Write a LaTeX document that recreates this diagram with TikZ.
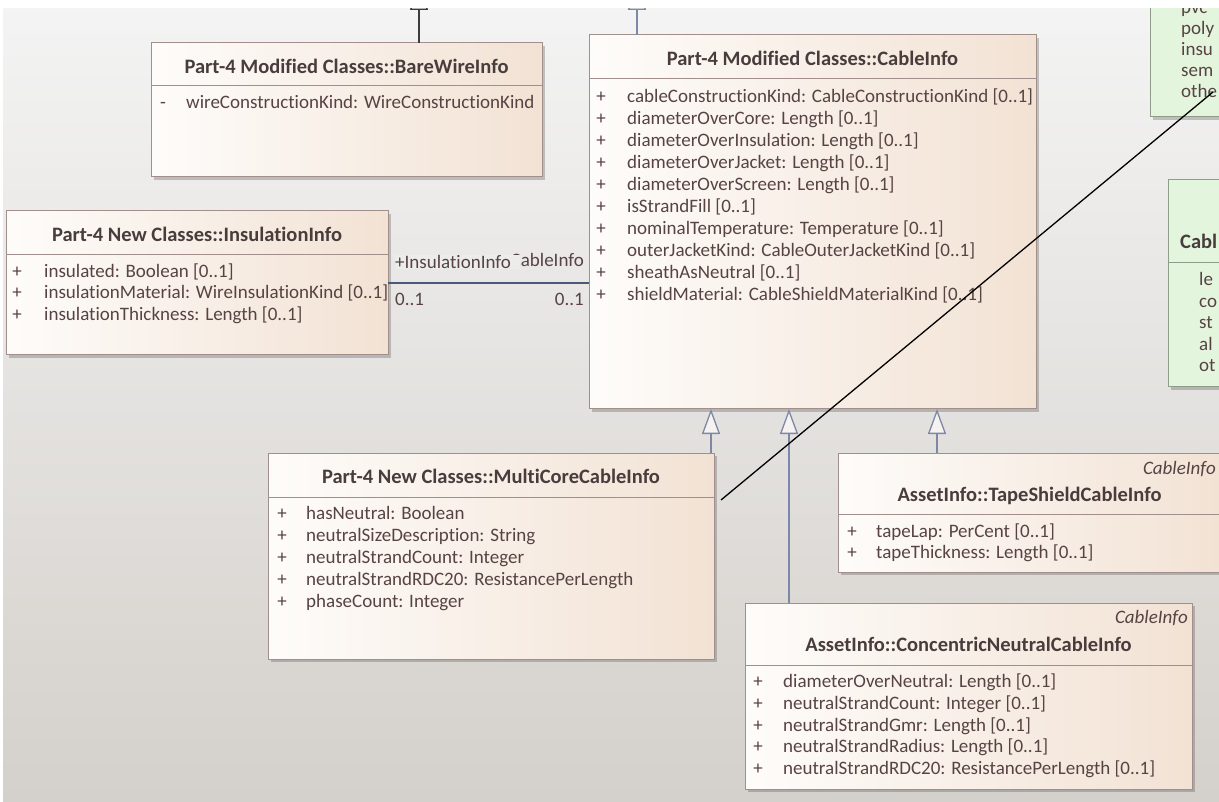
\documentclass[tikz,border=0pt]{standalone}
\usepackage{fontspec}
\setmainfont{Carlito}[Ligatures={NoCommon}]
\usetikzlibrary{shadows,arrows.meta}

\definecolor{bgtop}{HTML}{F4F4F4}
\definecolor{bgmid}{HTML}{E5E4E2}
\definecolor{bgbot}{HTML}{D4D0CB}
\definecolor{bglabel}{HTML}{ECECEB}
\definecolor{clsleft}{HTML}{FEFCFA}
\definecolor{clsright}{HTML}{F2E2D4}
\definecolor{clsline}{HTML}{A28E8A}
\definecolor{attrtext}{HTML}{574343}
\definecolor{titletext}{HTML}{483C3C}
\definecolor{assocline}{HTML}{4C5878}
\definecolor{genline}{HTML}{7C88A6}
\definecolor{genfill}{HTML}{F6F2EF}
\definecolor{darkgen}{HTML}{3C3C3C}
\definecolor{notefill}{HTML}{E4F5DE}
\definecolor{noteline}{HTML}{8E9C8A}

\tikzset{
  boxshadow/.style={drop shadow={shadow xshift=3pt, shadow yshift=-3pt, opacity=0.28, fill=black!75}},
  classbox/.style={draw=clsline, line width=1pt, left color=clsleft, right color=clsright,
    anchor=north west, inner sep=0pt, outer sep=0pt, boxshadow},
  notebox/.style={draw=noteline, line width=1pt, fill=notefill,
    anchor=north west, inner sep=0pt, outer sep=0pt, boxshadow},
  divider/.style={draw=clsline, line width=1pt},
  classtitle/.style={font=\bfseries\fontsize{20.5}{24}\selectfont, text=titletext, inner sep=0pt, anchor=base},
  attr/.style={font=\fontsize{19}{22}\selectfont, text=attrtext, inner sep=0pt, anchor=base west},
  vis/.style={attr, anchor=base},
  stereo/.style={font=\itshape\fontsize{19}{22}\selectfont, text=attrtext, inner sep=0pt, anchor=base east},
  endlabel/.style={attr},
  gen/.style={draw=genline, line width=1.3pt, -{Triangle[length=25pt,width=18pt,fill=genfill]}},
  gendark/.style={draw=darkgen, line width=1.3pt, -{Triangle[length=25pt,width=18pt,fill=genfill]}},
  assoc/.style={draw=assocline, line width=2pt},
  notelink/.style={draw=black, line width=1.3pt},
}

\begin{document}
\begin{tikzpicture}[x=1pt,y=-1pt]
\useasboundingbox (0,0) rectangle (1219,802);
\clip (0,0) rectangle (1219,802);

% canvas
\shade[top color=bgtop, middle color=bgmid, bottom color=bgbot] (0,0) rectangle (1219,802);

% class boxes
\node[classbox, minimum width=391pt, minimum height=134pt] (bare) at (151,43) {};
\node[classbox, minimum width=447pt, minimum height=374pt] (cable) at (589,35) {};
\node[classbox, minimum width=382pt, minimum height=144pt] (insul) at (6,211) {};
\node[classbox, minimum width=446pt, minimum height=206pt] (multi) at (268,453) {};
\node[classbox, minimum width=383pt, minimum height=119pt] (tape) at (838,453) {};
\node[classbox, minimum width=447pt, minimum height=186pt] (concentric) at (745,603) {};

% enumeration notes at the right border
\node[notebox, minimum width=90pt, minimum height=134pt] (wireins) at (1150,-17) {};
\node[notebox, minimum width=80pt, minimum height=207pt] (cablekind) at (1168,180) {};

% compartment dividers
\draw[divider] (151,86) -- (542,86);
\draw[divider] (589,79) -- (1036,79);
\draw[divider] (6,255) -- (388,255);
\draw[divider] (268,497) -- (714,497);
\draw[divider] (838,514) -- (1221,514);
\draw[divider] (745,665) -- (1192,665);
\draw[draw=noteline, line width=1pt] (1168,263) -- (1230,263);

% generalizations
\coordinate (bareparent) at (419,-15);
\coordinate (cableparent) at (637,-15);
\draw[gendark] ([xshift=268pt]bare.north west) -- (bareparent);
\draw[gen] ([xshift=48pt]cable.north west) -- (cableparent);
\draw[gen] ([xshift=-3pt]multi.north east) -- ([xshift=-3pt]multi.north east |- cable.south);
\draw[gen] ([xshift=44pt]concentric.north west) -- ([xshift=44pt]concentric.north west |- cable.south);
\draw[gen] ([xshift=99pt]tape.north west) -- ([xshift=99pt]tape.north west |- cable.south);

% association InsulationInfo -- CableInfo, with its two role names overlapping
\draw[assoc] (insul.east) -- (insul.east -| cable.west);
\node[endlabel, anchor=base east] (lblcable) at (584,267) {+CableInfo};
\node[endlabel, fill=bglabel, inner xsep=0pt, inner ysep=0pt] (lblinsul) at (395,268.5) {+InsulationInfo\hspace{9.5pt}\mbox{}};
\node[endlabel] (multinsul) at (395,305.5) {0..1};
\node[endlabel, anchor=base east] (multcable) at (584,305.5) {0..1};

% BareWireInfo
\node[classtitle] (bare-t) at (346.5,74) {Part-4 Modified Classes::BareWireInfo};
\node[vis] (bare-v1) at (163,108.5) {-};
\node[attr] (bare-a1) at (186,108.5) {wireConstructionKind: WireConstructionKind};

% CableInfo
\node[classtitle] (cable-t) at (812.5,66) {Part-4 Modified Classes::CableInfo};
\foreach \txt [count=\i from 0] in {
  {cableConstructionKind: CableConstructionKind [0..1]},
  {diameterOverCore: Length [0..1]},
  {diameterOverInsulation: Length [0..1]},
  {diameterOverJacket: Length [0..1]},
  {diameterOverScreen: Length [0..1]},
  {isStrandFill [0..1]},
  {nominalTemperature: Temperature [0..1]},
  {outerJacketKind: CableOuterJacketKind [0..1]},
  {sheathAsNeutral [0..1]},
  {shieldMaterial: CableShieldMaterialKind [0..1]}} {
  \node[vis] (cable-v\i) at (601,102.5+22*\i) {+};
  \node[attr] (cable-a\i) at (627,102.5+22*\i) {\txt};
}

% InsulationInfo
\node[classtitle] (insul-t) at (197,242) {Part-4 New Classes::InsulationInfo};
\foreach \txt [count=\i from 0] in {
  {insulated: Boolean [0..1]},
  {insulationMaterial: WireInsulationKind [0..1]},
  {insulationThickness: Length [0..1]}} {
  \node[vis] (insul-v\i) at (17,277.5+21.5*\i) {+};
  \node[attr] (insul-a\i) at (44,277.5+21.5*\i) {\txt};
}

% MultiCoreCableInfo
\node[classtitle] (multi-t) at (491,483) {Part-4 New Classes::MultiCoreCableInfo};
\foreach \txt [count=\i from 0] in {
  {hasNeutral: Boolean},
  {neutralSizeDescription: String},
  {neutralStrandCount: Integer},
  {neutralStrandRDC20: ResistancePerLength},
  {phaseCount: Integer}} {
  \node[vis] (multi-v\i) at (282,519.5+22*\i) {+};
  \node[attr] (multi-a\i) at (306,519.5+22*\i) {\txt};
}

% TapeShieldCableInfo
\node[stereo] (tape-s) at (1216,474.5) {CableInfo};
\node[classtitle] (tape-t) at (1029.5,501) {AssetInfo::TapeShieldCableInfo};
\foreach \txt [count=\i from 0] in {
  {tapeLap: PerCent [0..1]},
  {tapeThickness: Length [0..1]}} {
  \node[vis] (tape-v\i) at (852,537.5+21*\i) {+};
  \node[attr] (tape-a\i) at (876,537.5+21*\i) {\txt};
}

% ConcentricNeutralCableInfo
\node[stereo] (conc-s) at (1188,623.5) {CableInfo};
\node[classtitle] (conc-t) at (968.5,651) {AssetInfo::ConcentricNeutralCableInfo};
\foreach \txt [count=\i from 0] in {
  {diameterOverNeutral: Length [0..1]},
  {neutralStrandCount: Integer [0..1]},
  {neutralStrandGmr: Length [0..1]},
  {neutralStrandRadius: Length [0..1]},
  {neutralStrandRDC20: ResistancePerLength [0..1]}} {
  \node[vis] (conc-v\i) at (758,687.5+21.75*\i) {+};
  \node[attr] (conc-a\i) at (783,687.5+21.75*\i) {\txt};
}

% note texts
\foreach \txt [count=\i from 0] in {pvc,poly,insu,sem,othe} {
  \node[attr] (wireins-l\i) at (1181,14+21*\i) {\txt};
}
\node[classtitle, anchor=base west] (cablekind-t) at (1180,249) {Cabl};
\foreach \txt [count=\i from 0] in {le,co,st,al,ot} {
  \node[attr] (cablekind-l\i) at (1199,286+21.5*\i) {\txt};
}

% note link
\coordinate (linkstart) at (721,500);
\coordinate (linkend) at (1213,92);
\draw[notelink] (linkstart) -- (linkend);

% white margins of the export
\fill[white] (0,0) rectangle (1219,8);
\fill[white] (0,0) rectangle (3,802);
\end{tikzpicture}
\end{document}
